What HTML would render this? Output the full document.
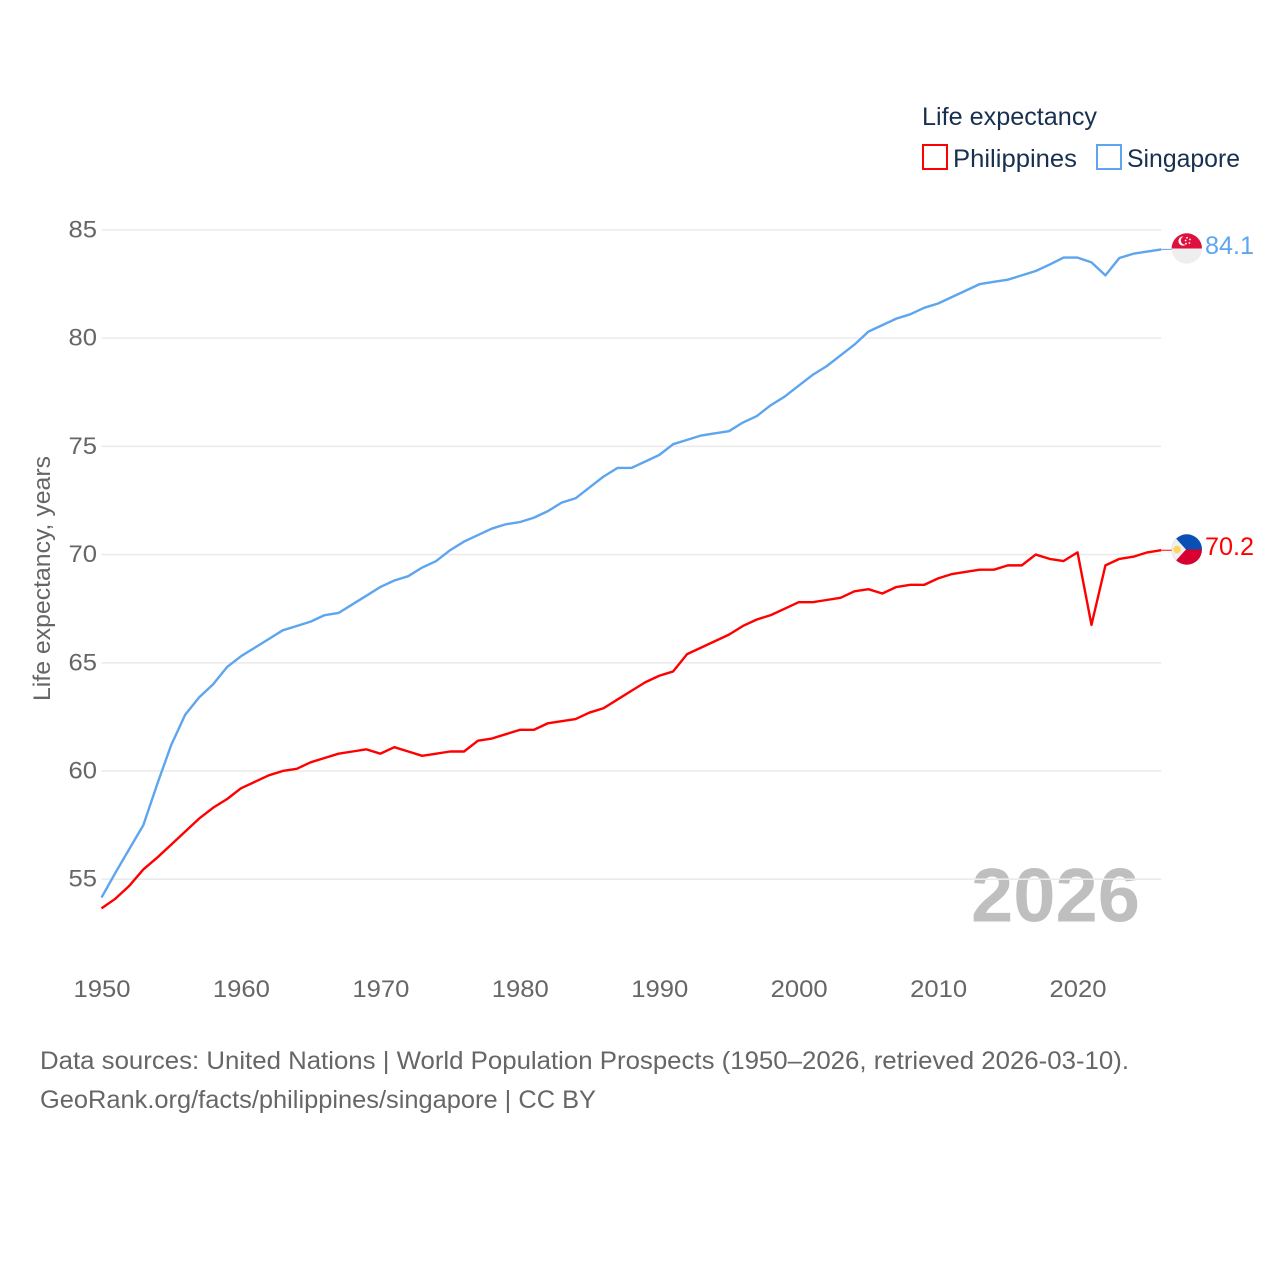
<!DOCTYPE html>
<html lang="en">
<head>
<meta charset="utf-8">
<title>Life expectancy: Philippines and Singapore</title>
<style>
  html, body { margin: 0; padding: 0; background: #ffffff; }
  #chart { display: block; width: 1280px; height: 1280px; font-family: "Liberation Sans", sans-serif; }
  .tick { font-size: 24px; fill: #666666; }
  .legend { font-size: 25px; fill: #18304f; }
  .note { font-size: 25px; fill: #666666; }
</style>
</head>
<body>
<svg id="chart" xmlns="http://www.w3.org/2000/svg" width="1280" height="1280" viewBox="0 0 1280 1280">
  <rect x="0" y="0" width="1280" height="1280" fill="#ffffff"/>

  <text x="971" y="921.5" font-size="76" font-weight="700" fill="#000000" fill-opacity="0.25" textLength="169" lengthAdjust="spacingAndGlyphs">2026</text>

  <g id="grid"></g>
  <g id="yticks"></g>
  <g id="xticks"></g>

  <text class="tick" transform="translate(50,701) rotate(-90)" textLength="245" lengthAdjust="spacingAndGlyphs">Life expectancy, years</text>

  <g id="lines"></g>

  <g>
    <text class="legend" x="922" y="125" textLength="175" lengthAdjust="spacingAndGlyphs">Life expectancy</text>
    <g>
      <rect x="923" y="145" width="24" height="24" fill="#ffffff" stroke="#ff0000" stroke-width="2"/>
      <text class="legend" x="953" y="167" textLength="124" lengthAdjust="spacingAndGlyphs">Philippines</text>
    </g>
    <g>
      <rect x="1097" y="145" width="24" height="24" fill="#ffffff" stroke="#5da5ee" stroke-width="2"/>
      <text class="legend" x="1127" y="167" textLength="113" lengthAdjust="spacingAndGlyphs">Singapore</text>
    </g>
  </g>

  <defs>
    <clipPath id="flag-sg-clip"><circle cx="1186.8" cy="248.5" r="15.2"/></clipPath>
    <clipPath id="flag-ph-clip"><circle cx="1186.8" cy="549.5" r="15.2"/></clipPath>
  </defs>

  <g clip-path="url(#flag-sg-clip)">
    <rect x="1171" y="233" width="32" height="15.5" fill="#e0103c"/>
    <rect x="1171" y="248.5" width="32" height="16" fill="#eeeeee"/>
    <circle cx="1183" cy="241" r="4.6" fill="#ffffff"/>
    <circle cx="1185" cy="240.5" r="4.2" fill="#e0103c"/>
    <circle cx="1187" cy="237.8" r="0.9" fill="#ffffff"/>
    <circle cx="1190" cy="239.5" r="0.9" fill="#ffffff"/>
    <circle cx="1189.4" cy="243" r="0.9" fill="#ffffff"/>
    <circle cx="1186" cy="243.6" r="0.9" fill="#ffffff"/>
    <circle cx="1185.6" cy="240.5" r="0.9" fill="#ffffff"/>
  </g>

  <g clip-path="url(#flag-ph-clip)">
    <rect x="1171" y="534" width="32" height="15.5" fill="#0a50b4"/>
    <rect x="1171" y="549.5" width="32" height="16" fill="#d80030"/>
    <polygon points="1171,533 1186,549.5 1171,566" fill="#f0f0f0"/>
    <circle cx="1177" cy="549.5" r="3.8" fill="#ffd65c"/>
    <circle cx="1173.5" cy="540" r="1" fill="#ffd65c"/>
    <circle cx="1173.5" cy="559" r="1" fill="#ffd65c"/>
  </g>

  <text x="1205" y="254" font-size="25" fill="#5da5ee" textLength="49" lengthAdjust="spacingAndGlyphs">84.1</text>
  <text x="1205" y="555" font-size="25" fill="#ff0000" textLength="49" lengthAdjust="spacingAndGlyphs">70.2</text>

  <text class="note" x="40" y="1069" textLength="1089" lengthAdjust="spacingAndGlyphs">Data sources: United Nations | World Population Prospects (1950–2026, retrieved 2026-03-10).</text>
  <text class="note" x="40" y="1108" textLength="556" lengthAdjust="spacingAndGlyphs">GeoRank.org/facts/philippines/singapore | CC BY</text>
</svg>

<script>
const startYear = 1950;
const endYear = 2026;
const yTickValues = [55, 60, 65, 70, 75, 80, 85];
const xTickValues = [1950, 1960, 1970, 1980, 1990, 2000, 2010, 2020];

const philippinesValues = [
  53.65, 54.1, 54.7, 55.45, 56.0, 56.6, 57.2, 57.8, 58.3, 58.7,
  59.2, 59.5, 59.8, 60.0, 60.1, 60.4, 60.6, 60.8, 60.9, 61.0,
  60.8, 61.1, 60.9, 60.7, 60.8, 60.9, 60.9, 61.4, 61.5, 61.7,
  61.9, 61.9, 62.2, 62.3, 62.4, 62.7, 62.9, 63.3, 63.7, 64.1,
  64.4, 64.6, 65.4, 65.7, 66.0, 66.3, 66.7, 67.0, 67.2, 67.5,
  67.8, 67.8, 67.9, 68.0, 68.3, 68.4, 68.2, 68.5, 68.6, 68.6,
  68.9, 69.1, 69.2, 69.3, 69.3, 69.5, 69.5, 70.0, 69.8, 69.7,
  70.1, 66.75, 69.5, 69.8, 69.9, 70.1, 70.2
];

const singaporeValues = [
  54.15, 55.3, 56.4, 57.5, 59.4, 61.2, 62.6, 63.4, 64.0, 64.8,
  65.3, 65.7, 66.1, 66.5, 66.7, 66.9, 67.2, 67.3, 67.7, 68.1,
  68.5, 68.8, 69.0, 69.4, 69.7, 70.2, 70.6, 70.9, 71.2, 71.4,
  71.5, 71.7, 72.0, 72.4, 72.6, 73.1, 73.6, 74.0, 74.0, 74.3,
  74.6, 75.1, 75.3, 75.5, 75.6, 75.7, 76.1, 76.4, 76.9, 77.3,
  77.8, 78.3, 78.7, 79.2, 79.7, 80.3, 80.6, 80.9, 81.1, 81.4,
  81.6, 81.9, 82.2, 82.5, 82.6, 82.7, 82.9, 83.1, 83.4, 83.72,
  83.72, 83.5, 82.9, 83.7, 83.9, 84.0, 84.1
];

const svgNS = 'http://www.w3.org/2000/svg';

function xScale(year) {
  return 101.5 + (year - startYear) * (1161.2 - 101.5) / (endYear - startYear);
}
function yScale(value) {
  return 879.2 - (value - 55) * (879.2 - 229.9) / 30;
}
function pathFor(values) {
  return values.map(function (v, i) {
    return (i === 0 ? 'M' : 'L') + xScale(startYear + i).toFixed(2) + ' ' + yScale(v).toFixed(2);
  }).join(' ');
}

const gridGroup = document.getElementById('grid');
const yTickGroup = document.getElementById('yticks');
const xTickGroup = document.getElementById('xticks');
const lineGroup = document.getElementById('lines');

yTickValues.forEach(function (v) {
  const gridLine = document.createElementNS(svgNS, 'line');
  gridLine.setAttribute('x1', xScale(startYear));
  gridLine.setAttribute('x2', xScale(endYear));
  gridLine.setAttribute('y1', yScale(v));
  gridLine.setAttribute('y2', yScale(v));
  gridLine.setAttribute('stroke', '#ebebeb');
  gridLine.setAttribute('stroke-width', '1.6');
  
  
  gridGroup.appendChild(gridLine);

  const label = document.createElementNS(svgNS, 'text');
  label.setAttribute('class', 'tick');
  label.setAttribute('x', 97);
  label.setAttribute('y', yScale(v) + 7.5);
  label.setAttribute('text-anchor', 'end');
  label.setAttribute('textLength', '28.5');
  label.setAttribute('lengthAdjust', 'spacingAndGlyphs');
  
  
  label.textContent = String(v);
  yTickGroup.appendChild(label);
});

xTickValues.forEach(function (year) {
  const label = document.createElementNS(svgNS, 'text');
  label.setAttribute('class', 'tick');
  label.setAttribute('x', xScale(year) - 28);
  label.setAttribute('y', 997);
  label.setAttribute('textLength', '57');
  label.setAttribute('lengthAdjust', 'spacingAndGlyphs');
  
  
  label.textContent = String(year);
  xTickGroup.appendChild(label);
});

function addConnector(values, color, name) {
  const last = values[values.length - 1];
  const connector = document.createElementNS(svgNS, 'line');
  connector.setAttribute('x1', xScale(endYear));
  connector.setAttribute('x2', 1172);
  connector.setAttribute('y1', yScale(last));
  connector.setAttribute('y2', yScale(last));
  connector.setAttribute('stroke', color);
  connector.setAttribute('stroke-width', '1');
  
  
  lineGroup.appendChild(connector);
}

function addSeries(values, color, name) {
  const line = document.createElementNS(svgNS, 'path');
  line.setAttribute('d', pathFor(values));
  line.setAttribute('fill', 'none');
  line.setAttribute('stroke', color);
  line.setAttribute('stroke-width', '2.4');
  line.setAttribute('stroke-linejoin', 'round');
  
  
  lineGroup.appendChild(line);
}

addConnector(philippinesValues, '#ff0000', 'philippines-end-connector');
addConnector(singaporeValues, '#5da5ee', 'singapore-end-connector');
addSeries(philippinesValues, '#ff0000', 'philippines-line');
addSeries(singaporeValues, '#5da5ee', 'singapore-line');
</script>
</body>
</html>
